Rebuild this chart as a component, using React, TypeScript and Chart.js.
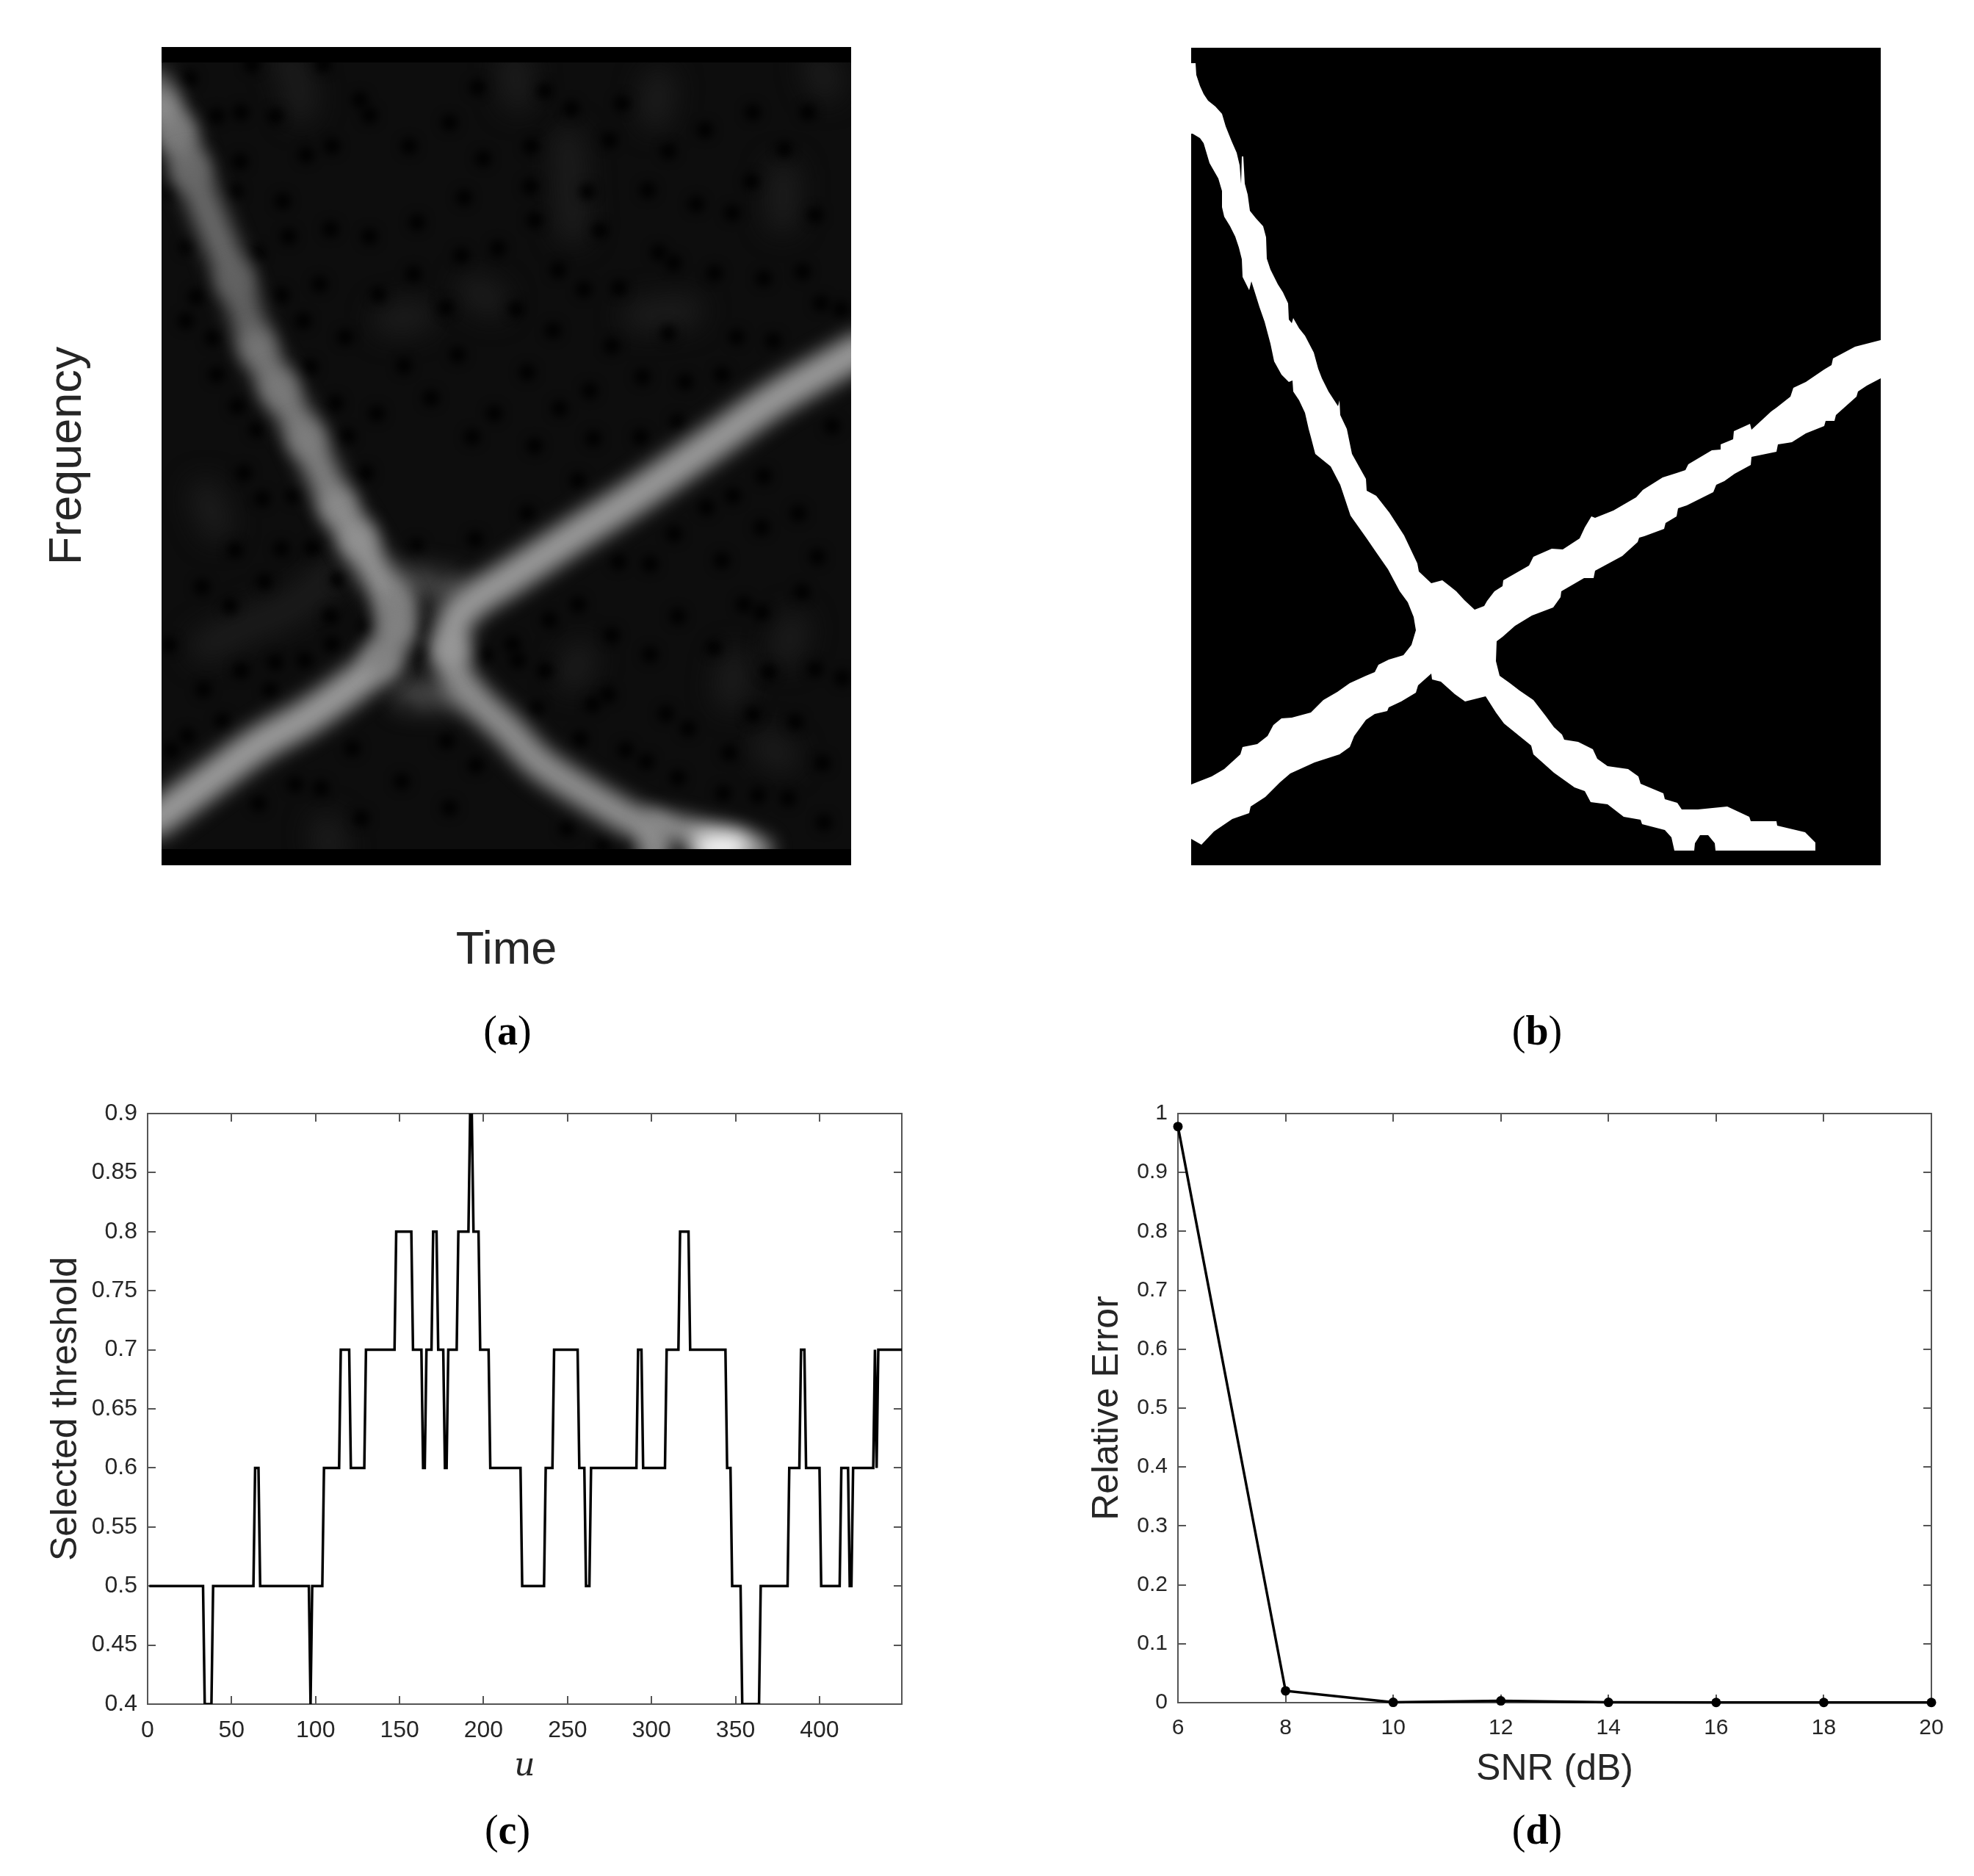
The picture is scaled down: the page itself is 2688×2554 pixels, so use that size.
import { useEffect, useRef } from "react"
import { Chart, registerables } from "chart.js"

Chart.register(...registerables)

const TEXT = "#262626"
const AXIS = "#555555"
const SANS = "'Liberation Sans', Arial, sans-serif"
const SERIF = "'Liberation Serif', serif"

// panel (c)
const thresholdU = [
  1, 33, 34, 38, 39, 63, 64, 66, 67, 96, 97, 98, 104, 105, 114, 115, 120, 121, 129, 130,
  147, 148, 157, 158, 163, 164, 165, 166, 169, 170, 172, 173, 176, 177, 178, 179, 184, 185, 191, 192,
  193, 194, 197, 198, 203, 204, 222, 223, 236, 237, 241, 242, 256, 257, 260, 261, 263, 264, 291, 292,
  294, 295, 308, 309, 316, 317, 322, 323, 344, 345, 347, 348, 353, 354, 364, 365, 381, 382, 388, 389,
  391, 392, 400, 401, 412, 413, 417, 418, 419, 420, 432, 433, 434, 435, 449,
]
const thresholdValues = [
  0.5, 0.5, 0.4, 0.4, 0.5, 0.5, 0.6, 0.6, 0.5, 0.5, 0.4, 0.5, 0.5, 0.6, 0.6, 0.7, 0.7, 0.6, 0.6, 0.7,
  0.7, 0.8, 0.8, 0.7, 0.7, 0.6, 0.6, 0.7, 0.7, 0.8, 0.8, 0.7, 0.7, 0.6, 0.6, 0.7, 0.7, 0.8, 0.8, 0.9,
  0.9, 0.8, 0.8, 0.7, 0.7, 0.6, 0.6, 0.5, 0.5, 0.6, 0.6, 0.7, 0.7, 0.6, 0.6, 0.5, 0.5, 0.6, 0.6, 0.7,
  0.7, 0.6, 0.6, 0.7, 0.7, 0.8, 0.8, 0.7, 0.7, 0.6, 0.6, 0.5, 0.5, 0.4, 0.4, 0.5, 0.5, 0.6, 0.6, 0.7,
  0.7, 0.6, 0.6, 0.5, 0.5, 0.6, 0.6, 0.5, 0.5, 0.6, 0.6, 0.7, 0.6, 0.7, 0.7,
]
const thresholdXTicks = [0, 50, 100, 150, 200, 250, 300, 350, 400]
const thresholdYTicks = [0.4, 0.45, 0.5, 0.55, 0.6, 0.65, 0.7, 0.75, 0.8, 0.85, 0.9]

// panel (d)
const snrValues = [6, 8, 10, 12, 14, 16, 18, 20]
const relativeError = [0.978, 0.02, 0.0005, 0.003, 0.0005, 0.0003, 0.0003, 0.0003]
const errorYTicks = [0, 0.1, 0.2, 0.3, 0.4, 0.5, 0.6, 0.7, 0.8, 0.9, 1]

// panel (a), ridges of the spectrogram, x and y in image units
const ridgeUpperLeft = [
  [-10, 30], [0, 58], [20, 96], [40, 147], [70, 222], [100, 297], [130, 386], [160, 444], [197, 512],
  [240, 604], [267, 649], [293, 697], [317, 738], [320, 769], [300, 814],
]
const ridgeUpperLeftGrey = [100, 142, 122, 104, 104, 98, 118, 122, 126, 140, 146, 146, 128, 130]
const ridgeLowerLeft = [
  [300, 814], [273, 838], [200, 890], [133, 928], [67, 976], [10, 1018], [-10, 1032],
]
const ridgeUpperRight = [
  [393, 800], [400, 759], [427, 731], [470, 704], [560, 645], [643, 592], [710, 546], [753, 516],
  [837, 457], [950, 392],
]
const ridgeLowerRight = [
  [393, 800], [403, 838], [433, 873], [470, 907], [513, 952], [570, 990], [627, 1024], [670, 1049], [670, 1080],
]
const ridgeTail = [[672, 1036], [720, 1046], [780, 1060], [815, 1072]]
const ridgeBlob = [[740, 1070], [780, 1070]]
const crossingHaze = [
  [[325, 705], [395, 715]],
  [[335, 860], [405, 860]],
]
const faintTraces = [
  [[170, -5], [185, 25], [190, 60]],
  [[480, 0], [485, 45]],
  [[553, 110], [560, 225]],
  [[677, 30], [672, 70]],
  [[847, 155], [845, 210]],
  [[895, 5], [905, 30]],
  [[425, 310], [450, 325]],
  [[310, 350], [350, 345]],
  [[650, 345], [715, 338]],
  [[60, 795], [120, 765], [177, 742], [240, 690]],
  [[60, 590], [75, 630]],
  [[860, 770], [850, 800]],
  [[780, 820], [775, 860]],
  [[570, 810], [560, 835]],
  [[825, 930], [845, 945]],
  [[225, 1045], [230, 1075]],
]
const zeroPoints = [
  [38, 22], [75, 73], [108, 68], [155, 73], [197, 126], [232, 114], [337, 114], [438, 131], [107, 135], [13, 177],
  [100, 176], [165, 189], [412, 184], [230, 227], [173, 237], [283, 237], [348, 218], [35, 251], [130, 259], [408, 263],
  [458, 253], [215, 302], [343, 288], [295, 316], [163, 317], [47, 319], [387, 334], [33, 352], [193, 352], [250, 374],
  [70, 375], [403, 398], [202, 415], [75, 425], [330, 413], [367, 457], [237, 464], [103, 468], [293, 478], [130, 500],
  [253, 509], [423, 510], [453, 478], [123, 3], [220, 3], [270, 51], [283, 72], [392, 82], [430, 34],
  [522, 39], [558, 63], [627, 56], [805, 68], [880, 68], [740, 92], [610, 106], [503, 114], [690, 121], [848, 118],
  [502, 169], [580, 176], [662, 174], [803, 162], [728, 193], [777, 205], [508, 215], [597, 229], [890, 208], [677, 259],
  [697, 273], [540, 283], [753, 287], [820, 294], [873, 285], [575, 309], [623, 307], [483, 336], [925, 336], [898, 328],
  [533, 365], [690, 369], [783, 374], [833, 379], [613, 386], [498, 422], [655, 428], [713, 435], [763, 425], [583, 447],
  [542, 471], [703, 490], [652, 510], [508, 522], [913, 495], [588, 512],
  [112, 559], [180, 590], [137, 594], [100, 664], [163, 662], [205, 661], [240, 704], [140, 707], [55, 714], [93, 740],
  [230, 754], [278, 769], [232, 792], [195, 814], [155, 817], [108, 828], [57, 854], [148, 855], [83, 897], [35, 917],
  [13, 936], [10, 793], [353, 771], [358, 802], [377, 700], [278, 559], [337, 874], [440, 807], [427, 649], [347, 659],
  [260, 934], [388, 924], [428, 957], [182, 983], [217, 988], [327, 979], [132, 1009], [392, 1015], [272, 1029],
  [567, 569], [498, 614], [820, 563], [778, 590], [742, 606], [867, 614], [817, 633], [698, 642], [763, 678], [622, 680],
  [665, 683], [893, 673], [872, 721], [567, 738], [793, 738], [817, 749], [528, 759], [703, 754], [613, 780], [752, 797],
  [478, 792], [665, 806], [827, 830], [890, 826], [522, 828], [485, 814], [927, 838], [608, 861], [587, 874], [510, 880],
  [687, 887], [805, 888], [863, 898], [717, 907], [570, 921], [632, 936], [773, 940], [660, 952], [900, 954], [703, 974],
  [765, 995], [812, 998], [853, 1002], [902, 1035], [552, 1043], [602, 1065], [635, 1064], [700, 1064],
]

// panel (b), outline of the binary mask, in image units
const maskOutline = [
  [0, 21], [6, 21], [7, 37], [12, 52], [17, 63], [23, 72], [33, 80], [42, 90], [47, 107], [55, 127],
  [62, 143], [66, 160], [68, 185], [69, 148], [71, 148], [73, 185], [77, 200], [80, 222], [88, 232], [98, 243],
  [102, 258], [103, 287], [108, 302], [118, 322], [125, 333], [132, 348], [133, 370], [137, 375], [139, 368], [147, 382],
  [155, 392], [167, 415], [173, 437], [178, 450], [187, 468], [200, 488], [202, 480], [203, 500], [212, 519], [219, 553],
  [238, 587], [239, 603], [252, 610], [270, 633], [290, 664], [308, 702], [310, 713], [327, 729], [342, 725], [351, 732],
  [361, 740], [372, 752], [386, 765], [399, 760], [403, 753], [413, 740], [424, 733], [425, 725], [460, 705], [466, 693],
  [491, 682], [506, 683], [529, 668], [536, 653], [545, 638], [550, 640], [575, 630], [606, 612], [615, 602], [642, 585],
  [661, 579], [673, 575], [677, 567], [709, 548], [721, 547], [721, 540], [738, 533], [739, 522], [761, 512], [763, 520],
  [790, 495], [797, 490], [816, 475], [820, 463], [837, 455], [862, 438], [872, 432], [874, 423], [889, 415], [904, 407],
  [939, 398], [939, 450], [920, 460], [908, 468], [906, 475], [878, 500], [876, 508], [864, 508], [862, 515], [837, 525],
  [818, 537], [812, 538], [799, 540], [797, 550], [763, 557], [762, 568], [740, 580], [726, 590], [715, 595], [711, 605],
  [675, 623], [663, 627], [661, 638], [646, 647], [644, 655], [617, 665], [610, 667], [608, 673], [587, 692], [550, 712],
  [548, 722], [535, 722], [504, 740], [503, 748], [493, 762], [464, 773], [441, 787], [424, 802], [416, 808], [415, 835],
  [420, 855], [434, 865], [447, 875], [466, 888], [483, 910], [494, 925], [505, 935], [508, 942], [527, 945], [547, 955],
  [553, 968], [567, 978], [595, 982], [609, 992], [612, 1002], [643, 1015], [645, 1023], [662, 1028], [668, 1037], [690, 1037],
  [730, 1033], [760, 1047], [762, 1053], [797, 1053], [798, 1059], [836, 1068], [850, 1082], [850, 1093], [714, 1093], [713, 1083],
  [704, 1072], [693, 1072], [686, 1083], [685, 1093], [658, 1093], [654, 1075], [645, 1065], [614, 1057], [612, 1051], [589, 1047],
  [567, 1030], [544, 1027], [536, 1012], [522, 1007], [494, 987], [466, 962], [463, 950], [426, 920], [415, 905], [401, 883],
  [373, 890], [359, 880], [340, 863], [328, 860], [327, 852], [309, 868], [306, 878], [286, 890], [269, 898], [267, 903],
  [250, 907], [238, 915], [222, 937], [216, 952], [202, 962], [168, 973], [135, 988], [121, 1000], [101, 1020], [81, 1033],
  [79, 1042], [56, 1050], [31, 1067], [14, 1085], [0, 1077], [0, 1003], [28, 992], [45, 982], [67, 962], [70, 952],
  [90, 948], [104, 937], [112, 922], [123, 913], [137, 912], [163, 905], [180, 888], [199, 877], [216, 865], [238, 855],
  [250, 850], [255, 840], [269, 833], [289, 827], [300, 813], [306, 793], [303, 775], [295, 755], [284, 740], [268, 710],
  [252, 687], [239, 668], [217, 637], [203, 595], [190, 570], [169, 553], [163, 530], [160, 519], [155, 497], [147, 480],
  [139, 468], [138, 453], [133, 455], [123, 445], [113, 427], [108, 403], [100, 373], [93, 353], [88, 337], [82, 318],
  [79, 330], [70, 312], [69, 288], [65, 272], [60, 257], [53, 243], [45, 230], [42, 217], [42, 195], [37, 178],
  [25, 157], [17, 130], [12, 123], [2, 117], [0, 117],
]

const toPoints = (list: number[][]) => list.map(([x, y]) => ({ x, y }))

// each dataset can ask for its own blur, the spectrogram is soft
const blurPlugin = {
  id: "datasetBlur",
  beforeDatasetDraw(chart: any, args: any) {
    const blur = chart.data.datasets[args.index].blur
    if (blur) chart.ctx.filter = `blur(${blur}px)`
  },
  afterDatasetDraw(chart: any) {
    chart.ctx.filter = "none"
  },
}

function ChartCanvas({ config, style }: { config: () => any; style: React.CSSProperties }) {
  const canvasRef = useRef<HTMLCanvasElement>(null)

  useEffect(() => {
    if (!canvasRef.current) return
    const chart = new Chart(canvasRef.current, config())
    return () => chart.destroy()
  }, [config])

  return (
    <canvas
      ref={canvasRef}
      width={style.width as number}
      height={style.height as number}
      style={{ position: "absolute", display: "block", ...style }}
    />
  )
}

const baseOptions = {
  responsive: false,
  animation: false,
  devicePixelRatio: 1,
  events: [],
  plugins: { legend: { display: false }, tooltip: { enabled: false } },
}

// box axis with ticks pointing inward, like a MATLAB plot
function boxAxes(
  xTicks: number[],
  yTicks: number[],
  xMax: [number, number],
  yMax: [number, number],
  padLeft: number,
  padBottom: number,
  tickSize: number,
  xTitle: any,
  yTitle: any,
) {
  const grid = { drawOnChartArea: false, tickLength: -11, color: AXIS, lineWidth: 2 }
  const border = { color: AXIS, width: 2 }
  const font = { family: SANS, size: tickSize }
  const setTicks = (values: number[]) => (scale: any) => {
    scale.ticks = values.map((value) => ({ value }))
  }
  const shared = { type: "linear", grid, border }
  return {
    x: {
      ...shared,
      min: xMax[0],
      max: xMax[1],
      afterBuildTicks: setTicks(xTicks),
      afterFit: (s: any) => {
        s.height = padBottom
        s.paddingLeft = 0
        s.paddingRight = 0
      },
      ticks: { color: TEXT, font, padding: 28, maxRotation: 0, autoSkip: false, callback: (v: number) => String(v) },
      title: xTitle,
    },
    y: {
      ...shared,
      min: yMax[0],
      max: yMax[1],
      afterBuildTicks: setTicks(yTicks),
      afterFit: (s: any) => {
        s.width = padLeft
        s.paddingTop = 0
        s.paddingBottom = 0
      },
      ticks: { color: TEXT, font, padding: 25, autoSkip: false, callback: (v: number) => String(v) },
      title: yTitle,
    },
    x2: {
      ...shared,
      position: "top",
      min: xMax[0],
      max: xMax[1],
      afterBuildTicks: setTicks(xTicks),
      afterFit: (s: any) => { s.height = 0 },
      ticks: { display: false },
    },
    y2: {
      ...shared,
      position: "right",
      min: yMax[0],
      max: yMax[1],
      afterBuildTicks: setTicks(yTicks),
      afterFit: (s: any) => { s.width = 0 },
      ticks: { display: false },
    },
  }
}

const axisTitle = (text: string, size: number, padding: any, extra: any = {}) => ({
  display: true,
  text,
  color: TEXT,
  padding,
  font: { family: SANS, size, lineHeight: 1.2, ...extra },
})

const softLine = (points: number[][], color: string, width: number, blur: number) => ({
  data: toPoints(points),
  showLine: true,
  borderColor: color,
  borderWidth: width,
  borderCapStyle: "round",
  borderJoinStyle: "round",
  tension: 0.35,
  pointRadius: 0,
  blur,
})

const spectrogramConfig = () => ({
  type: "scatter",
  data: {
    datasets: [
      { ...softLine(ridgeBlob, "#ffffff", 40, 14) },
      { ...softLine(ridgeTail, "#8c8c8c", 36, 12) },
      {
        ...softLine(ridgeUpperLeft, "#808080", 46, 13),
        segment: {
          borderColor: (ctx: any) => {
            const g = ridgeUpperLeftGrey[ctx.p0DataIndex]
            return `rgb(${g},${g},${g})`
          },
        },
      },
      { ...softLine(ridgeLowerLeft, "#999999", 48, 13) },
      { ...softLine(ridgeUpperRight, "#989898", 48, 13) },
      { ...softLine(ridgeLowerRight, "#8e8e8e", 44, 13) },
      ...crossingHaze.map((h) => softLine(h, "#484848", 40, 16)),
      {
        data: toPoints(zeroPoints),
        showLine: false,
        pointRadius: 11,
        pointBorderWidth: 0,
        pointBackgroundColor: "#000000",
        blur: 7,
      },
      ...faintTraces.map((t) => softLine(t, "#1c1c1c", 44, 18)),
    ],
  },
  options: {
    ...baseOptions,
    layout: { padding: { top: 45, right: 29 } },
    scales: {
      x: {
        type: "linear",
        min: 0,
        max: 939,
        grid: { display: false },
        border: { display: false },
        ticks: { display: false },
        afterFit: (s: any) => { s.height = 184 },
        title: axisTitle("Time", 63, { top: 0, bottom: 8 }),
      },
      y: {
        type: "linear",
        reverse: true,
        min: 0,
        max: 1071,
        grid: { display: false },
        border: { display: false },
        ticks: { display: false },
        afterFit: (s: any) => { s.width = 220 },
        title: axisTitle("Frequency", 63, { top: 55, bottom: 0 }),
      },
    },
  },
  plugins: [blurPlugin],
})

const maskConfig = () => ({
  type: "scatter",
  data: {
    datasets: [
      {
        data: toPoints(maskOutline),
        showLine: true,
        fill: "shape",
        backgroundColor: "#ffffff",
        borderColor: "#ffffff",
        borderWidth: 0,
        pointRadius: 0,
      },
    ],
  },
  options: {
    ...baseOptions,
    scales: {
      x: { type: "linear", display: false, min: 0, max: 939 },
      y: { type: "linear", display: false, reverse: true, min: 0, max: 1113 },
    },
  },
})

const thresholdConfig = () => ({
  type: "line",
  data: {
    datasets: [
      {
        data: thresholdU.map((x, i) => ({ x, y: thresholdValues[i] })),
        borderColor: "#000000",
        borderWidth: 3.5,
        borderJoinStyle: "miter",
        pointRadius: 0,
        tension: 0,
      },
    ],
  },
  options: {
    ...baseOptions,
    layout: { padding: { top: 36, right: 40 } },
    scales: boxAxes(
      thresholdXTicks,
      thresholdYTicks,
      [0, 449],
      [0.4, 0.9],
      201,
      120,
      32,
      {
        display: true,
        text: "u",
        color: TEXT,
        padding: { top: 0, bottom: 8 },
        font: { family: "'DejaVu Serif', serif", size: 44, style: "italic", lineHeight: 1.2 },
      },
      axisTitle("Selected threshold", 50, { top: 60, bottom: 0 }),
    ),
  },
})

const errorConfig = () => ({
  type: "line",
  data: {
    datasets: [
      {
        data: snrValues.map((x, i) => ({ x, y: relativeError[i] })),
        borderColor: "#000000",
        backgroundColor: "#000000",
        borderWidth: 3.5,
        pointRadius: 6.5,
        pointBorderWidth: 0,
        tension: 0,
        clip: false,
      },
    ],
  },
  options: {
    ...baseOptions,
    layout: { padding: { top: 36, right: 50 } },
    scales: boxAxes(
      snrValues,
      errorYTicks,
      [6, 20],
      [0, 1],
      204,
      122,
      30,
      axisTitle("SNR (dB)", 50, { top: 0, bottom: 1 }),
      axisTitle("Relative Error", 50, { top: 78, bottom: 0 }),
    ),
  },
})

function PanelLabel({ letter, x, y }: { letter: string; x: number; y: number }) {
  return (
    <div
      style={{
        position: "absolute",
        left: x,
        top: y,
        transform: "translate(-50%, -50%)",
        fontFamily: SERIF,
        fontSize: 56,
        lineHeight: 1,
        color: "#000000",
      }}
    >
      (<b>{letter}</b>)
    </div>
  )
}

export default function App() {
  return (
    <div style={{ position: "absolute", left: 0, top: 0, width: 2688, height: 2554, background: "#ffffff", overflow: "hidden" }}>
      <div style={{ position: "absolute", left: 220, top: 64, width: 939, height: 1114, background: "#000000" }} />
      <div style={{ position: "absolute", left: 220, top: 85, width: 939, height: 1071, background: "#0d0d0d" }} />
      <ChartCanvas config={spectrogramConfig} style={{ left: 0, top: 40, width: 1188, height: 1300 }} />
      <ChartCanvas config={maskConfig} style={{ left: 1622, top: 65, width: 939, height: 1113, background: "#000000" }} />
      <ChartCanvas config={thresholdConfig} style={{ left: 0, top: 1480, width: 1268, height: 960 }} />
      <ChartCanvas config={errorConfig} style={{ left: 1400, top: 1480, width: 1280, height: 960 }} />
      <PanelLabel letter="a" x={691} y={1403} />
      <PanelLabel letter="b" x={2093} y={1403} />
      <PanelLabel letter="c" x={691} y={2491} />
      <PanelLabel letter="d" x={2093} y={2491} />
    </div>
  )
}
